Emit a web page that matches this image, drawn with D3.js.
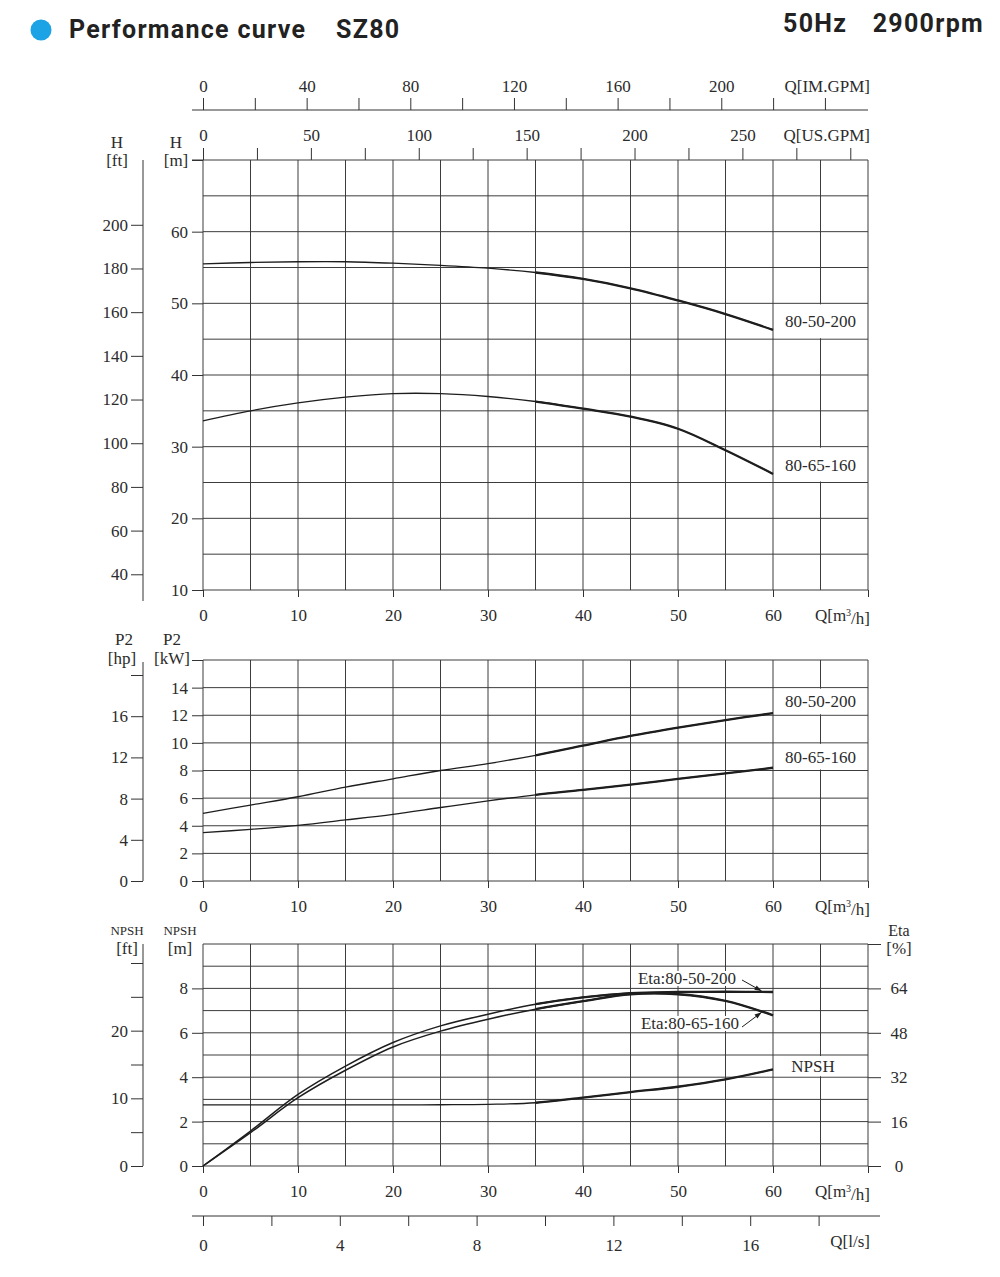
<!DOCTYPE html>
<html lang="en">
<head>
<meta charset="UTF-8">
<title>Performance curve SZ80</title>
<script src="https://d3js.org/d3.v7.min.js"></script>
<style>
  body { margin: 0; background: #fff; }
  svg { display: block; background: #fff; }
  .tick text, .lbl { font-family: "Liberation Serif", "Times New Roman", serif; font-size: 17px; fill: #2b2b2b; }
  .tick line, .axline { stroke: #333; stroke-width: 1; }
  .grid line { stroke: #3c3c3c; stroke-width: 1; }
  .curve { fill: none; stroke: #1e1e1e; }
  .title { font-family: Roboto, "Liberation Sans", sans-serif; font-weight: bold; font-size: 25px; letter-spacing: 1.3px; fill: #222; }
</style>
</head>
<body>
<svg width="1000" height="1277"></svg>
<script>
// flow points, m3/h
const flowQ = [0, 5, 10, 15, 20, 25, 30, 35, 40, 45, 50, 55, 60];

// head, m
const head80_50_200 = [55.5, 55.7, 55.8, 55.8, 55.6, 55.3, 54.9, 54.3, 53.4, 52.1, 50.4, 48.5, 46.3];
const head80_65_160 = [33.6, 35.0, 36.1, 36.9, 37.4, 37.4, 37.0, 36.3, 35.3, 34.2, 32.5, 29.5, 26.2];

// shaft power P2, kW
const p2_80_50_200 = [4.9, 5.5, 6.1, 6.8, 7.4, 8.0, 8.5, 9.1, 9.8, 10.5, 11.1, 11.65, 12.15];
const p2_80_65_160 = [3.5, 3.74, 4.03, 4.42, 4.83, 5.32, 5.8, 6.24, 6.6, 6.97, 7.4, 7.79, 8.2];

// efficiency, %
const eta80_50_200 = [0, 12.6, 25.8, 36, 44.5, 50.5, 54.7, 58.3, 60.8, 62.3, 62.7, 62.8, 62.7];
const eta80_65_160 = [0, 12, 24.6, 34.5, 42.9, 48.6, 52.9, 56.5, 59.4, 61.9, 61.9, 59.5, 54.3];

// NPSH required, m
const npsh = [2.75, 2.75, 2.75, 2.75, 2.75, 2.76, 2.78, 2.85, 3.08, 3.33, 3.57, 3.9, 4.35];

const models = ["80-50-200", "80-65-160"];

// tick values
const qTicks = d3.range(0, 71, 10);
const imTicks = d3.range(0, 241, 20);
const usTicks = d3.range(0, 301, 25);
const lsTicks = d3.range(0, 19, 2);
const headMTicks = d3.range(10, 71, 10);
const headFtTicks = d3.range(40, 201, 20);
const p2KwTicks = d3.range(0, 17, 2);
const p2HpTicks = d3.range(0, 21, 4);
const npshMTicks = d3.range(0, 9, 2);
const npshFtTicks = d3.range(0, 31, 5);
const etaTicks = d3.range(0, 81, 16);

const svg = d3.select("svg");
const L = 203, R = 868;

const x = d3.scaleLinear().domain([0, 70]).range([L, R]);
const xIm = d3.scaleLinear().domain([0, 70 * 3.666]).range([L, R]);
const xUs = d3.scaleLinear().domain([0, 70 * 4.403]).range([L, R]);
const xLs = d3.scaleLinear().domain([0, 70 / 3.6]).range([L, R]);

const yH = d3.scaleLinear().domain([10, 70]).range([590, 160]);
const yHft = d3.scaleLinear().domain([10 / 0.3048, 70 / 0.3048]).range([590, 160]);
const yP = d3.scaleLinear().domain([0, 16]).range([881, 660]);
const yPhp = d3.scaleLinear().domain([0, 16 / 0.7457]).range([881, 660]);
const yN = d3.scaleLinear().domain([0, 10]).range([1166, 944]);
const yNft = d3.scaleLinear().domain([0, 10 / 0.3048]).range([1166, 944]);
const yE = d3.scaleLinear().domain([0, 80]).range([1166, 944]);

const defs = svg.append("defs");
defs.append("clipPath").attr("id", "thick")
  .append("rect").attr("x", x(35)).attr("y", 0).attr("width", R - x(35) + 2).attr("height", 1277);
defs.append("marker").attr("id", "arrow")
  .attr("viewBox", "0 0 10 10").attr("refX", 10).attr("refY", 5)
  .attr("markerWidth", 9).attr("markerHeight", 7).attr("orient", "auto")
  .append("path").attr("d", "M0,1.5 L10,5 L0,8.5 Z").attr("fill", "#1e1e1e");

// title
svg.append("circle").attr("cx", 41).attr("cy", 30).attr("r", 10.5).attr("fill", "#1ba3e6");
svg.append("text").attr("class", "title").attr("x", 69).attr("y", 38).text("Performance curve");
svg.append("text").attr("class", "title").attr("x", 336).attr("y", 38).text("SZ80");
svg.append("text").attr("class", "title").attr("x", 783).attr("y", 32).text("50Hz");
svg.append("text").attr("class", "title").attr("x", 984).attr("y", 32).attr("text-anchor", "end").text("2900rpm");

function lbl(tx, ty, s, size, anchor) {
  return svg.append("text").attr("class", "lbl").attr("x", tx).attr("y", ty)
    .attr("text-anchor", anchor || "middle").attr("dy", "0.35em")
    .style("font-size", (size || 17) + "px").text(s);
}

function panel(y, step, qAxisY) {
  const [y0, y1] = y.domain();
  const g = svg.append("g").attr("class", "grid");
  g.selectAll(".v").data(d3.range(0, 71, 5)).join("line")
    .attr("x1", d => x(d)).attr("x2", d => x(d)).attr("y1", y(y1)).attr("y2", y(y0));
  g.selectAll(".h").data(d3.range(y0, y1 + 0.001, step)).join("line")
    .attr("x1", L).attr("x2", R).attr("y1", d => y(d)).attr("y2", d => y(d));
  // bottom flow axis
  const ax = svg.append("g").attr("transform", `translate(0,${qAxisY})`)
    .call(d3.axisBottom(x).tickValues(qTicks).tickSize(7).tickPadding(12)
      .tickFormat(d => d === 70 ? "" : d));
  ax.select(".domain").remove();
  lbl(R + 2, qAxisY + 25, "", 17, "end").text(null)
    .call(t => { t.append("tspan").text("Q[m"); t.append("tspan").attr("dy", "-0.45em").style("font-size", "10px").text("3"); t.append("tspan").attr("dy", "0.45em").text("/h]"); });
}

function leftAxes(yM, yFt, mTicks, ftTicks, mFmt, ftFmt, ftTop, ftBottom) {
  const a = svg.append("g").attr("transform", `translate(${L},0)`)
    .call(d3.axisLeft(yM).tickValues(mTicks).tickSize(11).tickPadding(4).tickFormat(mFmt));
  a.select(".domain").remove();
  const b = svg.append("g").attr("transform", "translate(143,0)")
    .call(d3.axisLeft(yFt).tickValues(ftTicks).tickSize(12).tickPadding(3).tickFormat(ftFmt));
  b.select(".domain").remove();
  svg.append("line").attr("class", "axline").attr("x1", 143).attr("x2", 143).attr("y1", ftTop).attr("y2", ftBottom);
}

function curve(values, y, thin) {
  const line = d3.line().x((d, i) => x(flowQ[i])).y(d => y(d)).curve(d3.curveCatmullRom.alpha(0.5));
  svg.append("path").attr("class", "curve").attr("d", line(values)).attr("stroke-width", thin || 1.3);
  svg.append("path").attr("class", "curve").attr("d", line(values)).attr("stroke-width", 2.3)
    .attr("clip-path", "url(#thick)");
}

function whiteBox(xa, xb, ya, yb) {
  svg.append("rect").attr("x", Math.min(xa, xb) + 1).attr("y", Math.min(ya, yb) + 1)
    .attr("width", Math.abs(xb - xa) - 2).attr("height", Math.abs(yb - ya) - 2).attr("fill", "#fff");
}

// ---------- top flow axes ----------
svg.append("line").attr("class", "axline").attr("x1", 192).attr("x2", R).attr("y1", 110).attr("y2", 110);
const im = svg.append("g").attr("transform", "translate(0,110)")
  .call(d3.axisTop(xIm).tickValues(imTicks).tickSize(12).tickPadding(6)
    .tickFormat(d => (d % 40 === 0 && d <= 200) ? d : ""));
im.select(".domain").remove();
lbl(R + 2, 86, "Q[IM.GPM]", 17, "end");
const us = svg.append("g").attr("transform", "translate(0,160)")
  .call(d3.axisTop(xUs).tickValues(usTicks).tickSize(12).tickPadding(7)
    .tickFormat(d => (d % 50 === 0 && d <= 250) ? d : ""));
us.select(".domain").remove();
lbl(R + 2, 135, "Q[US.GPM]", 17, "end");

// ---------- head panel ----------
panel(yH, 5, 590);
leftAxes(yH, yHft, headMTicks, headFtTicks, d => d === 70 ? "" : d, d => d, 160, 601);
svg.append("line").attr("class", "axline").attr("x1", 192).attr("x2", L).attr("y1", yH(70)).attr("y2", yH(70));
lbl(117, 142, "H"); lbl(117, 160, "[ft]");
lbl(176, 142, "H"); lbl(176, 160, "[m]");
whiteBox(x(60), x(70), yH(50), yH(45));
whiteBox(x(60), x(70), yH(30), yH(25));
curve(head80_50_200, yH);
curve(head80_65_160, yH);
lbl(x(65), (yH(50) + yH(45)) / 2, models[0]);
lbl(x(65), (yH(30) + yH(25)) / 2, models[1]);

// ---------- power panel ----------
panel(yP, 2, 881);
leftAxes(yP, yPhp, p2KwTicks, p2HpTicks, d => d === 16 ? "" : d, d => d === 20 ? "" : d, 662, 881);
lbl(124, 639, "P2"); lbl(122, 658, "[hp]");
lbl(172, 639, "P2"); lbl(172, 658, "[kW]");
whiteBox(x(60), x(70), yP(14), yP(12));
whiteBox(x(60), x(70), yP(10), yP(8));
curve(p2_80_50_200, yP);
curve(p2_80_65_160, yP);
lbl(x(65), (yP(14) + yP(12)) / 2, models[0]);
lbl(x(65), (yP(10) + yP(8)) / 2, models[1]);

// ---------- NPSH / efficiency panel ----------
panel(yN, 1, 1166);
leftAxes(yN, yNft, npshMTicks, npshFtTicks, d => d, d => (d % 10 === 0 && d < 30) ? d : "", 944, 1166);
const er = svg.append("g").attr("transform", `translate(${R},0)`)
  .call(d3.axisRight(yE).tickValues(etaTicks).tickSize(13).tickFormat(d => d === 80 ? "" : d));
er.select(".domain").remove();
er.selectAll("text").attr("x", 31).attr("text-anchor", "middle");
lbl(127, 930, "NPSH", 13); lbl(127, 948, "[ft]");
lbl(180, 930, "NPSH", 13); lbl(180, 948, "[m]");
lbl(899, 930, "Eta", 16); lbl(899, 948, "[%]");
whiteBox(x(60), x(70), yN(5), yN(4));
curve(eta80_50_200, yE, 1.5);
curve(eta80_65_160, yE, 1.5);
curve(npsh, yN);
lbl(813, (yN(5) + yN(4)) / 2, "NPSH");

const e1 = lbl(687, 978, "Eta:" + models[0]);
const e2 = lbl(690, 1023, "Eta:" + models[1]);
[e1, e2].forEach(t => {
  const bb = t.node().getBBox();
  svg.insert("rect", "text.lbl:last-of-type").attr("x", bb.x - 1).attr("y", bb.y + 2)
    .attr("width", bb.width + 2).attr("height", bb.height - 4).attr("fill", "#fff");
});
svg.node().appendChild(e1.node());
svg.node().appendChild(e2.node());
const endA = eta80_50_200[eta80_50_200.length - 1];
const endB = eta80_65_160[eta80_65_160.length - 1];
svg.append("line").attr("x1", 742).attr("y1", 980).attr("x2", x(58.8)).attr("y2", yE(endA) - 1)
  .attr("stroke", "#1e1e1e").attr("stroke-width", 1).attr("marker-end", "url(#arrow)");
svg.append("line").attr("x1", 742).attr("y1", 1027).attr("x2", x(58.8)).attr("y2", yE(endB) - 3)
  .attr("stroke", "#1e1e1e").attr("stroke-width", 1).attr("marker-end", "url(#arrow)");

// ---------- l/s axis ----------
svg.append("line").attr("class", "axline").attr("x1", 192).attr("x2", 880).attr("y1", 1216).attr("y2", 1216);
const ls = svg.append("g").attr("transform", "translate(0,1216)")
  .call(d3.axisBottom(xLs).tickValues(lsTicks).tickSize(10).tickPadding(13)
    .tickFormat(d => (d % 4 === 0 && d <= 16) ? d : ""));
ls.select(".domain").remove();
lbl(R + 2, 1241, "Q[l/s]", 17, "end");
</script>
</body>
</html>
